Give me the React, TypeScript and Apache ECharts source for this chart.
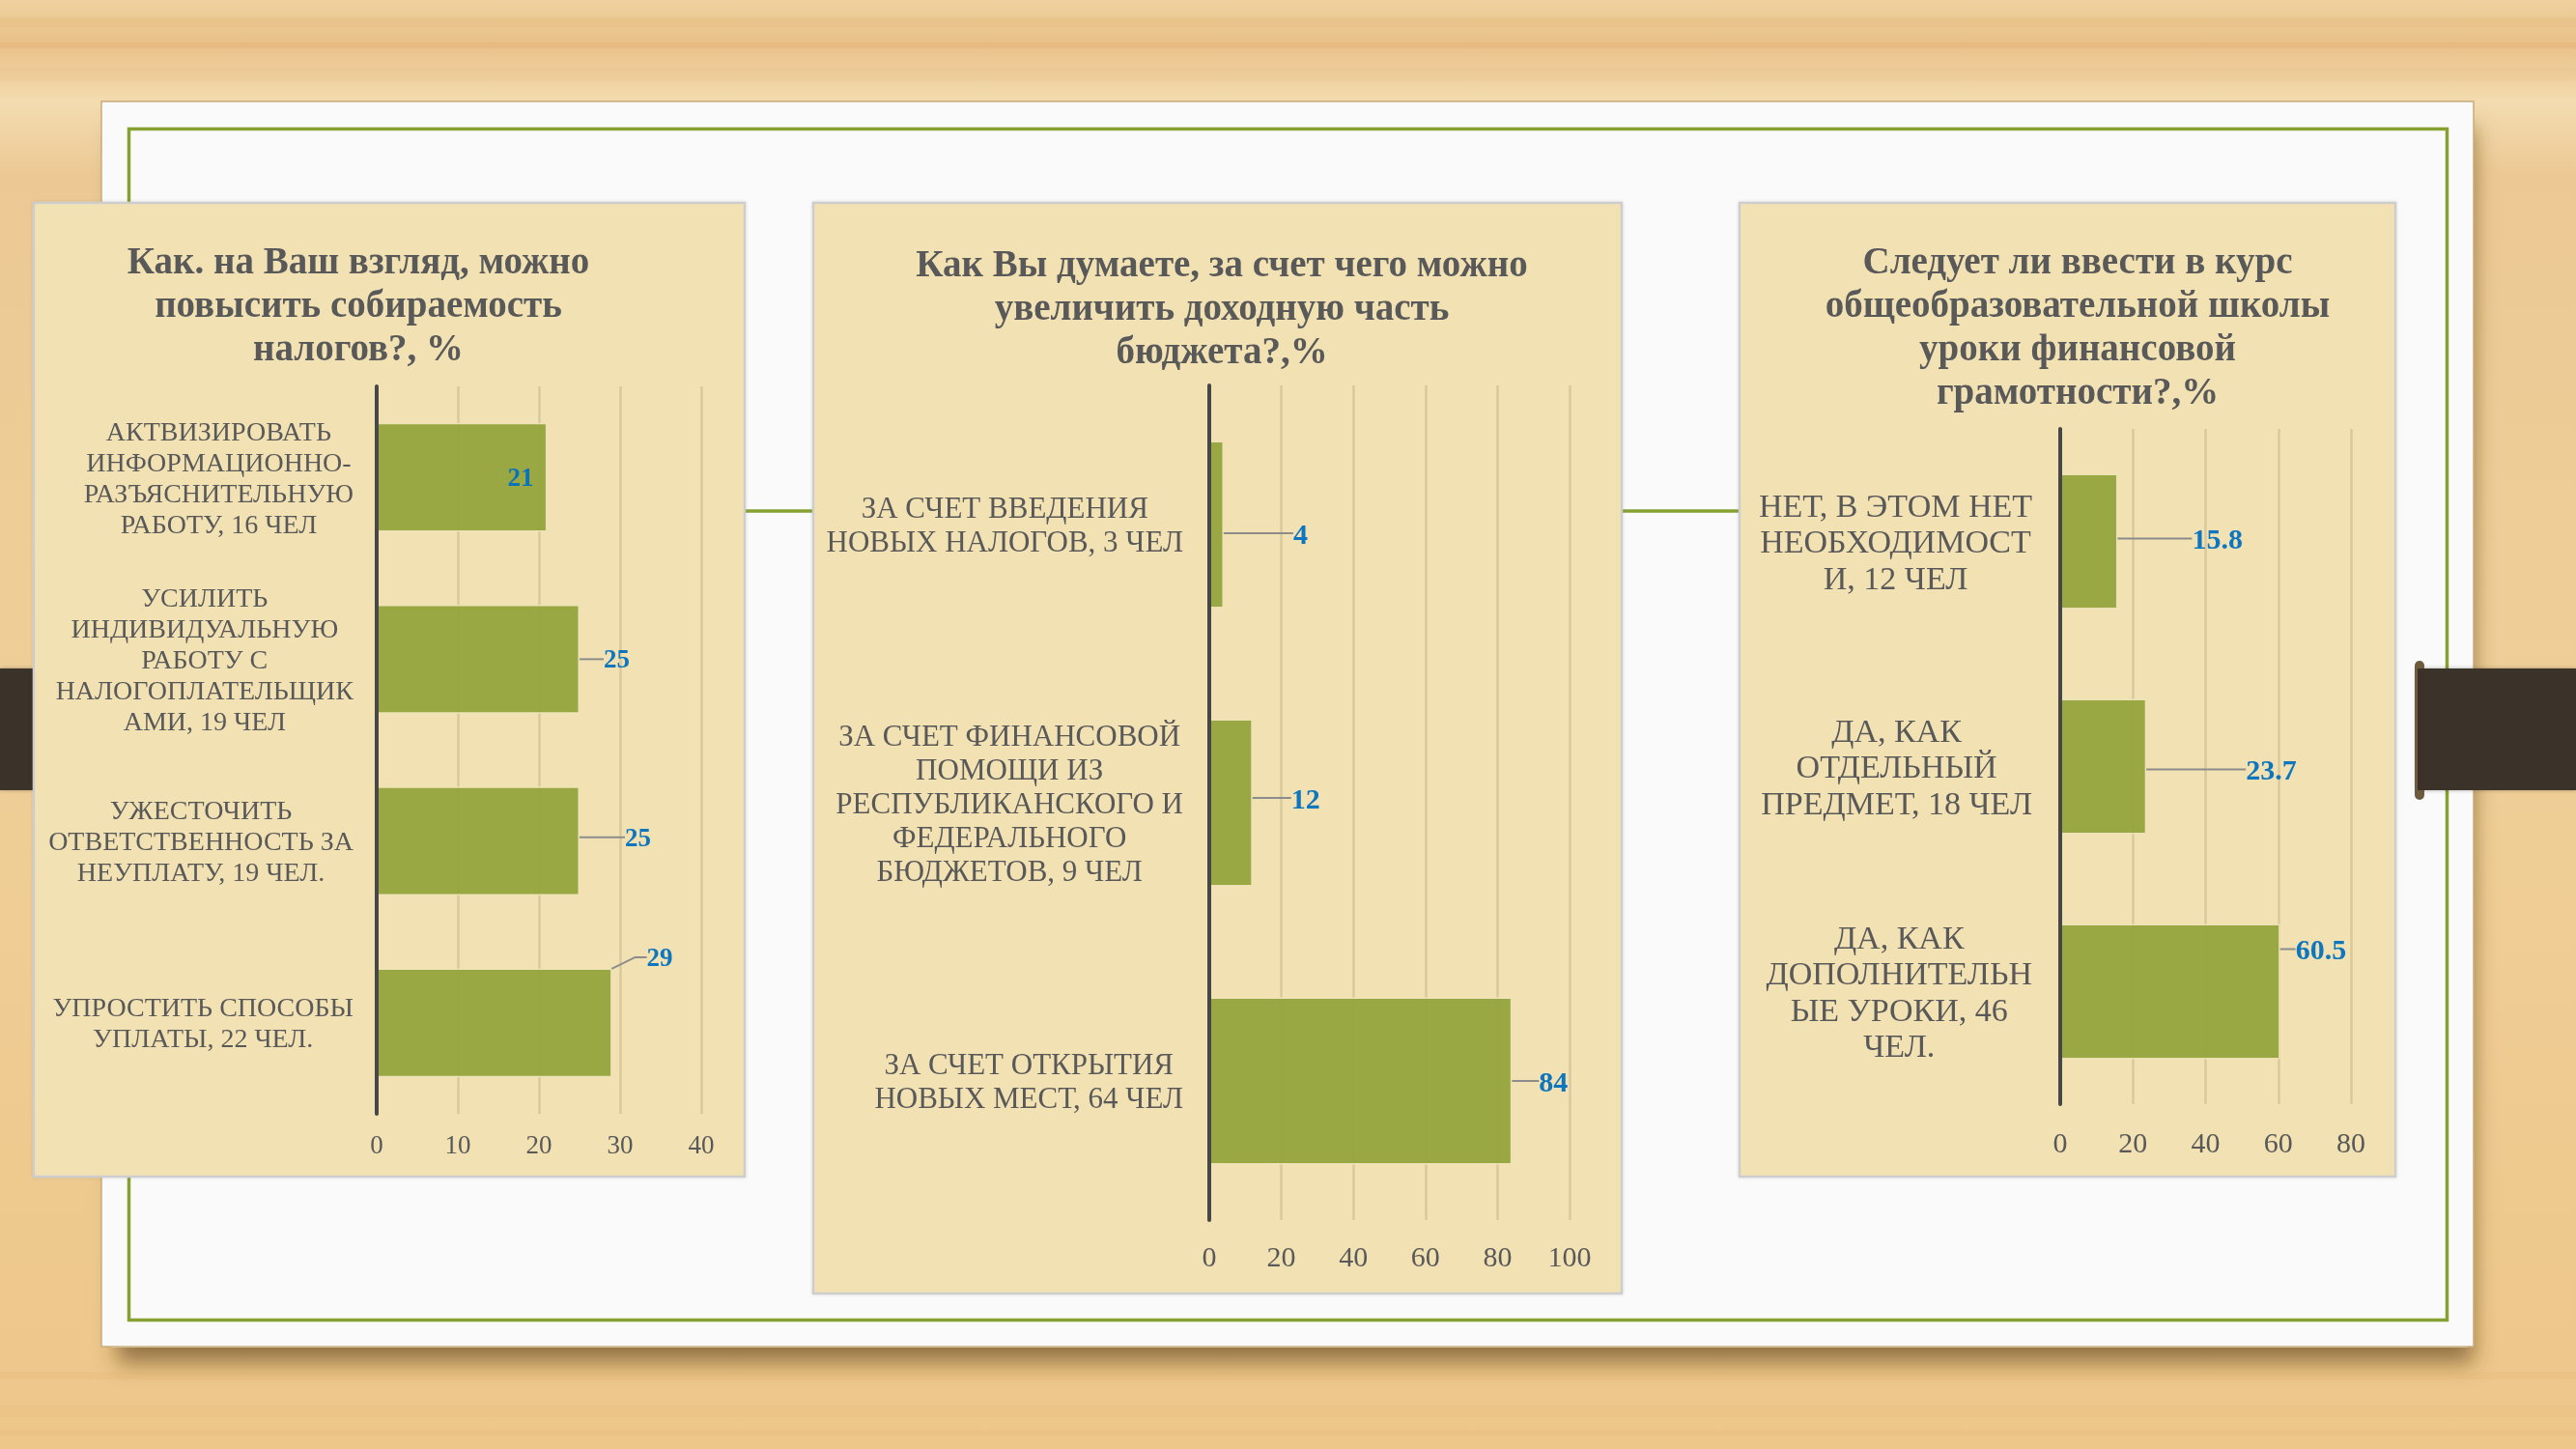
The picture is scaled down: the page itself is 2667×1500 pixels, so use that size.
import React, { useEffect, useRef } from 'react';
import * as echarts from 'echarts';

const FONT = "'Liberation Serif', 'Times New Roman', serif";

// ---------- DATA ----------
const taxTitle = 'Как. на Ваш взгляд, можно\nповысить собираемость\nналогов?, %';
const taxCategories = [
  'АКТВИЗИРОВАТЬ\nИНФОРМАЦИОННО-\nРАЗЪЯСНИТЕЛЬНУЮ\nРАБОТУ, 16 ЧЕЛ',
  'УСИЛИТЬ\nИНДИВИДУАЛЬНУЮ\nРАБОТУ С\nНАЛОГОПЛАТЕЛЬЩИК\nАМИ, 19 ЧЕЛ',
  'УЖЕСТОЧИТЬ\nОТВЕТСТВЕННОСТЬ ЗА\nНЕУПЛАТУ, 19 ЧЕЛ.',
  'УПРОСТИТЬ СПОСОБЫ\nУПЛАТЫ, 22 ЧЕЛ.',
];
const taxValues = [21, 25, 25, 29];
const taxAxisMax = 40;
const taxAxisStep = 10;

const budgetTitle = 'Как Вы думаете, за счет чего можно\nувеличить доходную часть\nбюджета?,%';
const budgetCategories = [
  'ЗА СЧЕТ ВВЕДЕНИЯ\nНОВЫХ НАЛОГОВ, 3 ЧЕЛ',
  'ЗА СЧЕТ ФИНАНСОВОЙ\nПОМОЩИ ИЗ\nРЕСПУБЛИКАНСКОГО И\nФЕДЕРАЛЬНОГО\nБЮДЖЕТОВ, 9 ЧЕЛ',
  'ЗА СЧЕТ ОТКРЫТИЯ\nНОВЫХ МЕСТ, 64 ЧЕЛ',
];
const budgetValues = [4, 12, 84];
const budgetAxisMax = 100;
const budgetAxisStep = 20;

const lessonTitle = 'Следует ли ввести в курс\nобщеобразовательной школы\nуроки финансовой\nграмотности?,%';
const lessonCategories = [
  'НЕТ, В ЭТОМ НЕТ\nНЕОБХОДИМОСТ\nИ, 12 ЧЕЛ',
  'ДА, КАК\nОТДЕЛЬНЫЙ\nПРЕДМЕТ, 18 ЧЕЛ',
  'ДА, КАК\nДОПОЛНИТЕЛЬН\nЫЕ УРОКИ, 46\nЧЕЛ.',
];
const lessonValues = [15.8, 23.7, 60.5];
const lessonAxisMax = 80;
const lessonAxisStep = 20;

// ---------- LAYOUT / STYLE ----------
const panels = [
  {
    title: taxTitle, cats: taxCategories, vals: taxValues, max: taxAxisMax, step: taxAxisStep,
    box: { x: 35, y: 210, w: 736, h: 1008 }, titleX: 371, titleY: 247,
    grid: { left: 390, top: 400, width: 336, height: 753 },
    catFont: 28, catLH: 32, catMargin: 24, tickFont: 27, tickMargin: 18, valFont: 27,
    shifts: [[0, 0], [20, 0], [42, -4], [31, -68]], inside: [0],
  },
  {
    title: budgetTitle, cats: budgetCategories, vals: budgetValues, max: budgetAxisMax, step: budgetAxisStep,
    box: { x: 842, y: 210, w: 837, h: 1129 }, titleX: 1265, titleY: 250,
    grid: { left: 1252, top: 399, width: 373, height: 864 },
    catFont: 31, catLH: 35, catMargin: 27, tickFont: 30, tickMargin: 22, valFont: 30,
    shifts: [[67, 9], [35, -5], [23, 0]], inside: [] as number[],
  },
  {
    title: lessonTitle, cats: lessonCategories, vals: lessonValues, max: lessonAxisMax, step: lessonAxisStep,
    box: { x: 1801, y: 210, w: 679, h: 1008 }, titleX: 2151, titleY: 247,
    grid: { left: 2133, top: 444, width: 301, height: 699 },
    catFont: 34, catLH: 37.5, catMargin: 29, tickFont: 30, tickMargin: 24, valFont: 30,
    shifts: [[72, -3], [98, 3], [11, -44]], inside: [] as number[],
  },
];

function buildOption(): any {
  const graphics: any[] = [];
  // wood background
  graphics.push({
    type: 'rect', z: -100, shape: { x: 0, y: 0, width: 2667, height: 1500 },
    style: {
      fill: {
        type: 'linear', x: 0, y: 0, x2: 0, y2: 1,
        colorStops: [
          { offset: 0, color: '#eed29f' },
          { offset: 0.03, color: '#e9c088' },
          { offset: 0.07, color: '#f3dcb0' },
          { offset: 0.12, color: '#ecc994' },
          { offset: 0.5, color: '#efcf98' },
          { offset: 0.85, color: '#eec98e' },
          { offset: 1, color: '#edc68a' },
        ],
      },
    },
  });
  const streaks = [[18, 10, 0.10], [44, 6, 0.12], [70, 14, 0.07], [1420, 8, 0.08], [1455, 12, 0.06], [1480, 6, 0.08]];
  streaks.forEach((s) => {
    graphics.push({
      type: 'rect', z: -99, shape: { x: 0, y: s[0], width: 2667, height: s[1] },
      style: { fill: `rgba(214,150,80,${s[2]})` },
    });
  });
  // slide shadow + slide
  graphics.push({
    type: 'rect', z: -98, shape: { x: 115, y: 115, width: 2440, height: 1280 },
    style: { fill: '#fafafa', shadowBlur: 22, shadowOffsetX: 6, shadowOffsetY: 16, shadowColor: 'rgba(90,60,20,0.6)' },
  });
  graphics.push({
    type: 'rect', z: -97, shape: { x: 105, y: 105, width: 2456, height: 1289 },
    style: { fill: '#fafafa', stroke: '#c8ac7a', lineWidth: 1.5 },
  });
  graphics.push({
    type: 'rect', z: -96, shape: { x: 133.5, y: 133.5, width: 2400, height: 1233 },
    style: { fill: 'none', stroke: '#86a032', lineWidth: 3.5 },
  });
  // connectors between panels
  graphics.push({
    type: 'line', z: -95, shape: { x1: 771, y1: 529, x2: 842, y2: 529 },
    style: { stroke: '#86a032', lineWidth: 3.5 },
  });
  graphics.push({
    type: 'line', z: -95, shape: { x1: 1679, y1: 529, x2: 1801, y2: 529 },
    style: { stroke: '#86a032', lineWidth: 3.5 },
  });
  // binder clips
  graphics.push({
    type: 'rect', z: -94, shape: { x: 0, y: 692, width: 34, height: 126 },
    style: { fill: '#3b3129', shadowBlur: 4, shadowColor: 'rgba(0,0,0,0.3)' },
  });
  graphics.push({
    type: 'rect', z: -94, shape: { x: 2502, y: 692, width: 165, height: 126 },
    style: { fill: '#3b3129', shadowBlur: 4, shadowColor: 'rgba(0,0,0,0.3)' },
  });
  graphics.push({
    type: 'rect', z: -93, shape: { x: 2500, y: 684, width: 10, height: 144, r: 5 },
    style: { fill: '#6e5a3e' },
  });
  graphics.push({
    type: 'rect', z: -92, shape: { x: 2503, y: 692, width: 8, height: 126 },
    style: { fill: '#3b3129' },
  });
  // panels
  panels.forEach((p) => {
    graphics.push({
      type: 'rect', z: -90, shape: { x: p.box.x, y: p.box.y, width: p.box.w, height: p.box.h },
      style: { fill: '#f2e2b3', stroke: '#cdcdcd', lineWidth: 2.5, shadowBlur: 3, shadowColor: 'rgba(0,0,0,0.15)' },
    });
    graphics.push({
      type: 'text', z: 100, x: p.titleX, y: p.titleY,
      style: {
        text: p.title, fill: '#595959', fontFamily: FONT, fontWeight: 'bold', fontSize: 39,
        lineHeight: 45, textAlign: 'center', verticalAlign: 'top',
      },
    });
  });

  return {
    animation: false,
    graphic: { elements: graphics },
    grid: panels.map((p) => ({ ...p.grid, containLabel: false, outerBoundsMode: 'none' })),
    xAxis: panels.map((p, i) => ({
      type: 'value', gridIndex: i, min: 0, max: p.max, interval: p.step,
      axisLine: { show: false }, axisTick: { show: false },
      splitLine: { show: true, lineStyle: { color: '#d8c89c', width: 2.5 } },
      axisLabel: { fontFamily: FONT, fontSize: p.tickFont, color: '#595959', margin: p.tickMargin },
    })),
    yAxis: panels.map((p, i) => ({
      type: 'category', gridIndex: i, data: p.cats, inverse: true, z: 5,
      axisLine: { show: true, lineStyle: { color: '#474747', width: 4 } },
      axisTick: { show: false }, splitLine: { show: false },
      axisLabel: {
        interval: 0, align: 'right', margin: p.catMargin,
        fontFamily: FONT, fontSize: p.catFont, lineHeight: p.catLH, color: '#595959',
        formatter: (v: string) => v.split('\n').map((l) => `{c|${l}}`).join('\n'),
        rich: { c: { align: 'center', fontFamily: FONT, fontSize: p.catFont, lineHeight: p.catLH, color: '#595959' } },
      },
    })),
    series: panels.map((p, i) => ({
      type: 'bar', xAxisIndex: i, yAxisIndex: i, barCategoryGap: '40%',
      data: p.vals.map((v, j) =>
        p.inside.includes(j)
          ? { value: v, label: { position: 'insideRight', distance: 14 }, labelLine: { show: false } }
          : v
      ),
      itemStyle: { color: '#93a43d', borderColor: '#efe3b8', borderWidth: 1.5, opacity: 0.95 },
      label: {
        show: true, position: 'right', distance: 5, fontFamily: FONT, fontWeight: 'bold',
        fontSize: p.valFont, color: '#0070C0',
      },
      labelLine: { show: true, length2: 12, lineStyle: { color: '#8c8c8c', width: 2 } },
      labelLayout: (params: any) => {
        const s = p.shifts[params.dataIndex] || [0, 0];
        return { dx: s[0], dy: s[1] };
      },
    })),
  };
}

export default function App() {
  const ref = useRef<HTMLDivElement>(null);
  useEffect(() => {
    if (!ref.current) return;
    const chart = echarts.init(ref.current, null, { renderer: 'svg' });
    chart.setOption(buildOption());
    return () => chart.dispose();
  }, []);
  return <div ref={ref} style={{ position: 'fixed', left: 0, top: 0, width: 2667, height: 1500 }} />;
}
